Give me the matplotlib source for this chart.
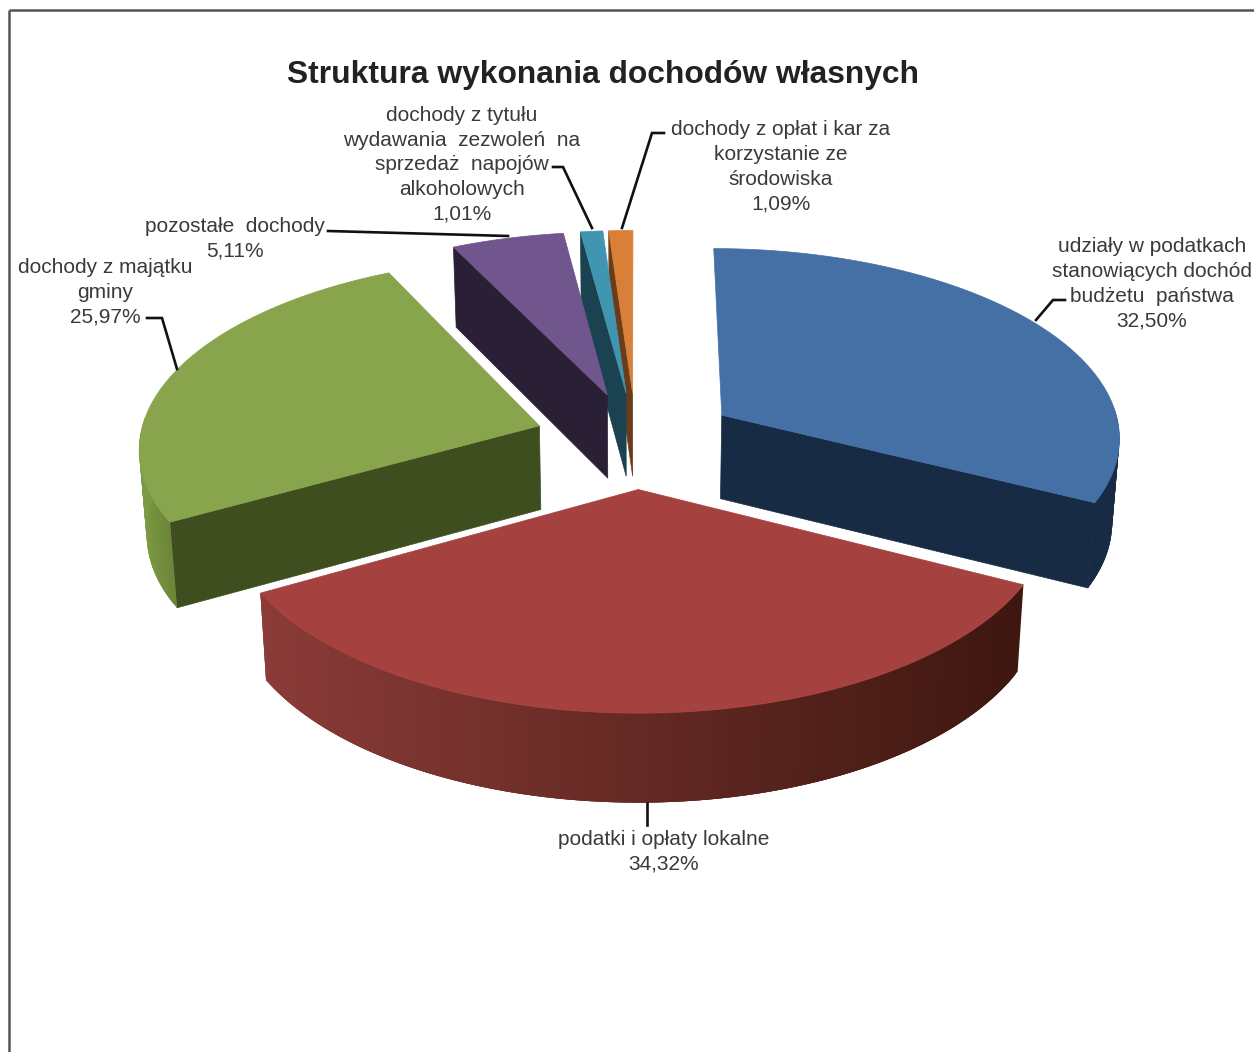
import numpy as np
import matplotlib
matplotlib.use('Agg')
import matplotlib.pyplot as plt
from matplotlib.colors import to_rgb

plt.rcParams['font.family'] = ['Liberation Sans', 'DejaVu Sans']

title = 'Struktura wykonania dochodów własnych'
categories = [
    'udziały w podatkach\nstanowiących dochód\nbudżetu  państwa',
    'podatki i opłaty lokalne',
    'dochody z majątku\ngminy',
    'pozostałe  dochody',
    'dochody z tytułu\nwydawania  zezwoleń  na\nsprzedaż  napojów\nalkoholowych',
    'dochody z opłat i kar za\nkorzystanie ze\nśrodowiska',
]
values = [32.50, 34.32, 25.97, 5.11, 1.01, 1.09]
value_labels = ['32,50%', '34,32%', '25,97%', '5,11%', '1,01%', '1,09%']

top_colors = ['#4570a6', '#a5423f', '#88a44c', '#71558d', '#4096b0', '#d97f38']
wall_colors = ['#182b45', '#41180f', '#3e4e1f', '#2a2036', '#1a4250', '#6a3d1a']
rim_left = ['#182b45', '#8b3b38', '#7d9a45', '#2a2036', '#1a4250', '#6a3d1a']
rim_right = ['#182b45', '#3e1710', '#6b8638', '#2a2036', '#1a4250', '#6a3d1a']

# label centre in px and leader line for each slice
label_pos = [(1152, 284), (664, 852), (105, 292), (235, 239), (462, 165), (781, 167)]
leaders = [
    [(1065, 300), (1053, 300), (1036, 320)],
    [(647, 803), (647, 825)],
    [(147, 318), (162, 318), (177, 369)],
    [(328, 231), (508, 236)],
    [(553, 167), (563, 167), (592, 228)],
    [(664, 133), (652, 133), (622, 228)],
]

# projection of the tilted pie
CX, CY = 636, 440
A, B = 400, 189
PERSP = 0.105
EXPLODE = 0.255
DEPTH = 84


def project(px, py):
    s = 1 / (1 + PERSP * py)
    return CX + A * px * s, CY - B * py * s


def lower(x, y):
    return CX + (x - CX) * 0.985, CY + DEPTH + (y - CY) * 1.02


def slice_points(t0, t1, mid):
    ox, oy = EXPLODE * np.sin(mid), EXPLODE * np.cos(mid)
    th = np.linspace(t0, t1, 160)
    x, y = project(ox + np.sin(th), oy + np.cos(th))
    ax0, ay0 = project(ox, oy)
    return th, x, y, ax0, ay0


def wall_visible(ax0, ay0, ex, ey, mx, my):
    dx, dy = ex - ax0, ey - ay0
    if abs(dx) / max(abs(dy), 1) < 0.1:
        return False
    side_mid = dx * (my - ay0) - dy * (mx - ax0)
    side_low = dx * DEPTH
    return side_mid * side_low < 0


def mix(c1, c2, t):
    return tuple((1 - t) * a + t * b for a, b in zip(to_rgb(c1), to_rgb(c2)))


fig = plt.figure(figsize=(12.54, 10.52), dpi=100)
ax = fig.add_axes([0, 0, 1, 1])
ax.set_xlim(0, 1254)
ax.set_ylim(1052, 0)
ax.axis('off')

ax.plot([9, 9], [1052, 10], color='#555555', lw=1.8, solid_capstyle='butt')
ax.plot([9, 1254], [10, 10], color='#555555', lw=1.8, solid_capstyle='butt')

edges = np.cumsum([0] + values) / sum(values) * 2 * np.pi

# back slices first, front one last
for i in [5, 4, 3, 0, 2, 1]:
    t0, t1 = edges[i], edges[i + 1]
    mid = (t0 + t1) / 2
    th, x, y, ax0, ay0 = slice_points(t0, t1, mid)
    lax, lay = lower(ax0, ay0)
    lx, ly = lower(x, y)
    mx, my = x[len(x) // 2], y[len(y) // 2]

    for k in [0, -1]:
        if wall_visible(ax0, ay0, x[k], y[k], mx, my):
            ax.fill([ax0, x[k], lx[k], lax], [ay0, y[k], ly[k], lay],
                    color=wall_colors[i], lw=0.5)

    vis = np.where(np.cos(th) < 0.05)[0]
    if len(vis) > 1:
        xmin, xmax = x[vis].min(), x[vis].max()
        # strips overlap the next one so no seams show
        for n, a in enumerate(vis[:-1]):
            b = vis[min(n + 3, len(vis) - 1)]
            t = (x[a] - xmin) / max(xmax - xmin, 1)
            ax.fill([x[a], x[b], lx[b], lx[a]], [y[a], y[b], ly[b], ly[a]],
                    facecolor=mix(rim_left[i], rim_right[i], t), edgecolor='none')

    ax.fill(np.r_[ax0, x], np.r_[ay0, y], color=top_colors[i], lw=0.5)

for pts in leaders:
    ax.plot(*zip(*pts), color='#111111', lw=1.9, solid_joinstyle='miter')

for name, val, pos in zip(categories, value_labels, label_pos):
    ax.text(pos[0], pos[1], name + '\n' + val, ha='center', va='center',
            fontsize=15, color='#3a3a3a', linespacing=1.38)

ax.text(603, 75, title, ha='center', va='center', fontsize=22.9,
        fontweight='bold', color='#222222')

fig.savefig('out.png', dpi=100)
